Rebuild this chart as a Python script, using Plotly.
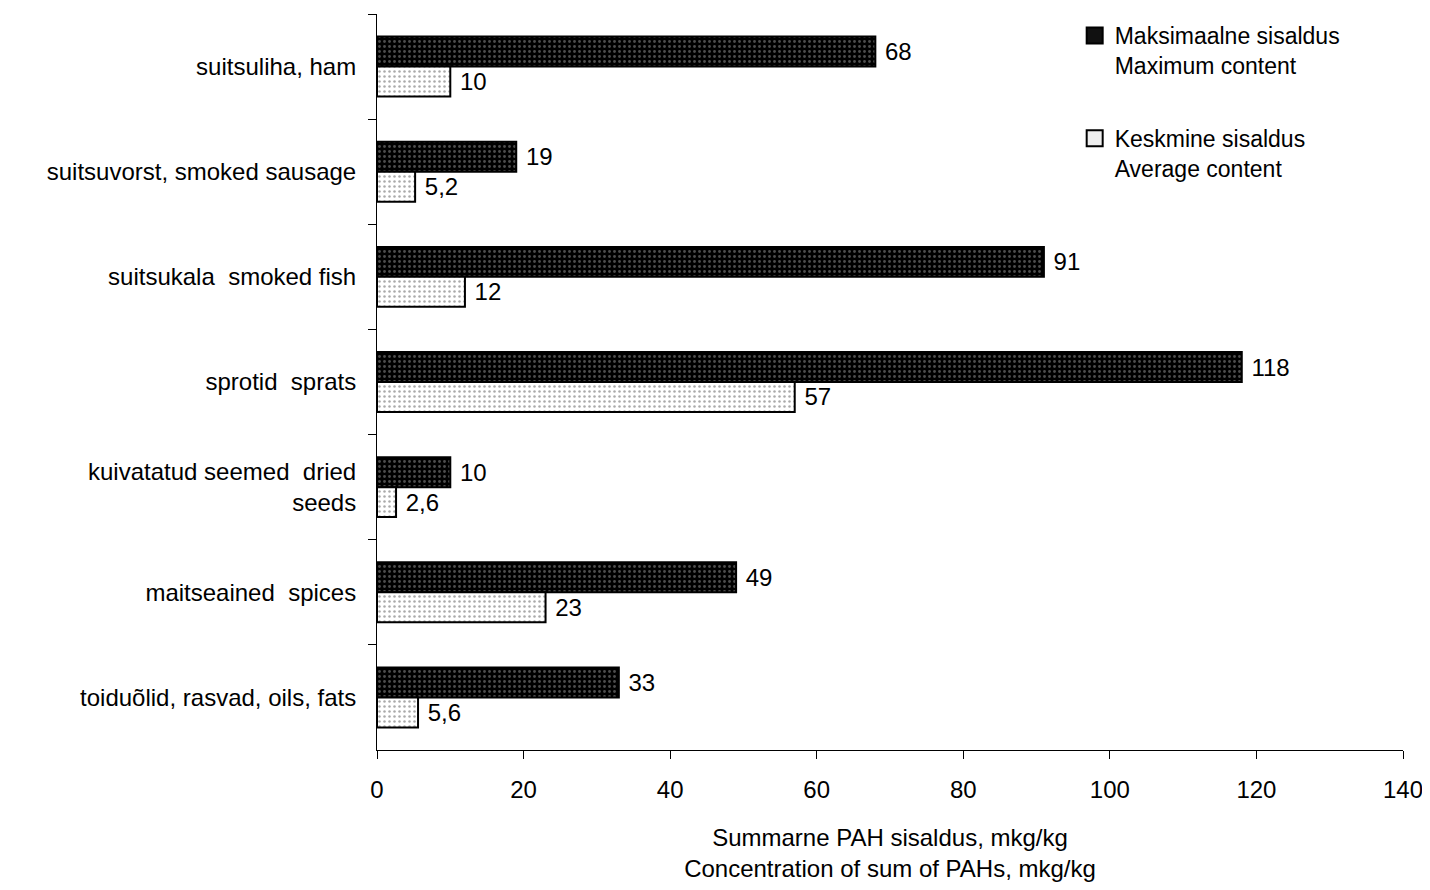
import plotly.graph_objects as go

categories = ["suitsuliha, ham", "suitsuvorst, smoked sausage", "suitsukala  smoked fish",
              "sprotid  sprats", "kuivatatud seemed  dried<br>seeds", "maitseained  spices",
              "toiduõlid, rasvad, oils, fats"]
max_vals = [68, 19, 91, 118, 10, 49, 33]
avg_vals = [10, 5.2, 12, 57, 2.6, 23, 5.6]
max_labels = ["68", "19", "91", "118", "10", "49", "33"]
avg_labels = ["10", "5,2", "12", "57", "2,6", "23", "5,6"]
x_ticks = [0, 20, 40, 60, 80, 100, 120, 140]
series_names = ["Maksimaalne sisaldus<br>Maximum content", "Keskmine sisaldus<br>Average content"]

FONT = "Liberation Sans, Arial, sans-serif"
FS = 24

fig = go.Figure()
fig.add_trace(go.Bar(
    y=categories, x=max_vals, orientation="h",
    name=series_names[0],
    text=max_labels, texttemplate="\u00a0%{text}", textposition="outside",
    textfont=dict(size=FS, color="black", family=FONT),
    cliponaxis=False,
    marker=dict(color="black", line=dict(color="black", width=2),
                pattern=dict(shape=".", fgcolor="#9a9a9a", bgcolor="black", size=5, solidity=0.25)),
    legendgroup="a", showlegend=False,
))
fig.add_trace(go.Bar(
    y=categories, x=avg_vals, orientation="h",
    name=series_names[1],
    text=avg_labels, texttemplate="\u00a0%{text}", textposition="outside",
    textfont=dict(size=FS, color="black", family=FONT),
    cliponaxis=False,
    marker=dict(color="white", line=dict(color="black", width=2),
                pattern=dict(shape=".", fgcolor="#555555", bgcolor="white", size=5, solidity=0.2)),
    legendgroup="b", showlegend=False,
))
# legend entries with larger square swatches
fig.add_trace(go.Scatter(
    x=[None], y=[None], mode="markers", name=series_names[0], legendgroup="a",
    marker=dict(symbol="square", size=18, color="#111111", line=dict(color="black", width=2)),
))
fig.add_trace(go.Scatter(
    x=[None], y=[None], mode="markers", name=series_names[1], legendgroup="b",
    marker=dict(symbol="square", size=18, color="#eeeeee", line=dict(color="black", width=2)),
))

fig.update_layout(
    width=1422, height=874,
    paper_bgcolor="white", plot_bgcolor="white",
    margin=dict(l=369, r=27, t=6, b=132),
    barmode="group", bargap=0.43, bargroupgap=0,
    font=dict(family=FONT, size=FS, color="black"),
    showlegend=True,
    legend=dict(x=0.68, y=1.0, xanchor="left", yanchor="top",
                traceorder="grouped", tracegroupgap=40, valign="top",
                font=dict(size=23, family=FONT, color="black"),
                bgcolor="rgba(0,0,0,0)", itemwidth=30),
)
fig.update_xaxes(
    range=[0, 140], tickvals=x_ticks, ticktext=[str(v) for v in x_ticks],
    showline=True, linecolor="black", linewidth=1,
    ticks="outside", ticklen=8, tickcolor="black",
    showgrid=False, zeroline=False, automargin=False,
    tickfont=dict(size=FS), ticklabelstandoff=10,
    title=dict(text="Summarne PAH sisaldus, mkg/kg<br>Concentration of sum of PAHs, mkg/kg",
               font=dict(size=FS), standoff=34),
)
fig.update_yaxes(
    autorange="reversed",
    showline=True, linecolor="black", linewidth=1,
    ticks="outside", ticklen=8, tickcolor="black", tickson="boundaries",
    showgrid=False, zeroline=False, automargin=False,
    tickfont=dict(size=FS), ticklabelstandoff=15,
)

fig.write_html("out.html")
